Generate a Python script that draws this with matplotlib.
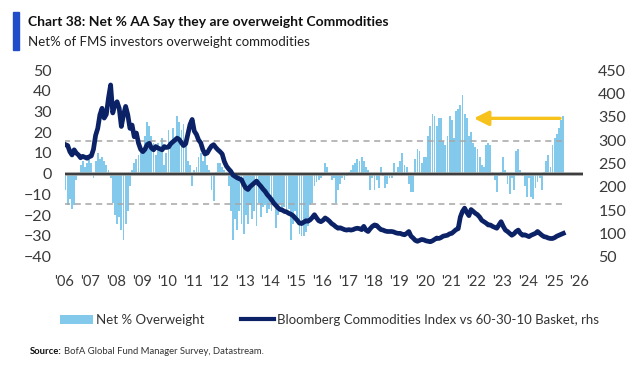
import numpy as np
import matplotlib
matplotlib.use("Agg")
import matplotlib.pyplot as plt
from matplotlib.patches import Patch, Rectangle
from matplotlib.lines import Line2D

plt.rcParams['font.family'] = ['Lato', 'DejaVu Sans']

# Net % of FMS investors overweight commodities, monthly from Jan 2006
net_ow = [
    -8, -15, -12, -17, -15, -3, 1, 4, 6, 3, 5, 7,            # 2006
    5, -2, 6, 10, 7, 8, 6, 4, 2, -2, -14, -20,               # 2007
    -24, -21, -27, -32, -24, -18, -6, 2, 5, 7, 9, 11,        # 2008
    12, 18, 25, 23, 18, 15, 9, 15, 11, 17, 4, 10,            # 2009
    21, 15, 22, 17, 28, 25, 21, 24, 18, 6, 4, -6,            # 2010
    2, 3, 8, 10, 6, 9, 4, 2, -8, -13, 1, 5,                  # 2011
    5, 3, 2, 1, -6, -18, -32, -22, -27, -18, -24, -29,       # 2012
    -20, -24, -15, -22, -18, -25, -14, -21, -16, -15, -19, -17,  # 2013
    -18, -14, -26, -20, -15, -17, -16, -18, -17, -32, -24, -18,  # 2014
    -22, -29, -30, -30, -28, -25, -15, -14, -6, -4, -3, -2,  # 2015
    -1, 5, 3, -1, -3, -2, -14, -8, -5, -2, -3, -1,           # 2016
    1, 2, 4, 5, 7, 6, 8, 6, 3, 2, -8, -2,                    # 2017
    -8, -3, -7, 3, -1, -7, -5, -2, -2, 5, 1, 3,              # 2018
    6, 10, 4, 3, -5, -9, -9, 7, 12, 11, 5, 8,                # 2019
    8, 18, 23, 29, 28, 23, 27, 27, 16, 14, 18, 28,           # 2020
    26, 17, 30, 31, 33, 38, 29, 27, 18, 20, 15, 13,          # 2021
    12, 8, 4, 3, 14, 15, 14, 1, -3, -9, -1, 1,               # 2022
    8, 2, -5, -10, -2, -8, 11, 12, 2, -1, -6, -11,           # 2023
    -2, -11, -12, -7, -4, -2, -8, 1, 6, 9, 3, 14,            # 2024
    17, 19, 22, 26, 28,                                      # 2025
]

# Bloomberg Commodities Index vs 60-30-10 basket (rhs), monthly from Jan 2006
bcom_rel = [
    290, 288, 275, 268, 279, 272, 268, 262, 265, 263, 261, 264,
    266, 280, 310, 325, 354, 368, 347, 355, 390, 418, 358, 375,
    382, 368, 329, 354, 372, 354, 325, 332, 307, 315, 293, 280,
    275, 280, 290, 293, 283, 279, 286, 283, 281, 279, 286, 284,
    285, 292, 296, 300, 304, 301, 294, 288, 292, 312, 333, 344,
    319, 312, 300, 294, 279, 270, 272, 280, 287, 290, 284, 279,
    275, 270, 254, 244, 238, 233, 225, 222, 219, 217, 215, 205,
    197, 194, 200, 204, 208, 212, 206, 201, 195, 190, 183, 178,
    172, 165, 160, 155, 151, 150, 147, 146, 143, 141, 138, 133,
    128, 122, 121, 124, 127, 126, 129, 134, 140, 133, 127, 125,
    128, 133, 130, 126, 121, 118, 114, 111, 112, 110, 108, 107,
    108, 107, 108, 110, 111, 110, 108, 115, 107, 104, 110, 115,
    118, 117, 112, 108, 107, 105, 104, 104, 104, 103, 101, 100,
    100, 98, 97, 100, 104, 94, 90, 85, 83, 85, 87, 86,
    84, 83, 82, 84, 87, 90, 89, 91, 94, 95, 96, 99,
    100, 104, 108, 110, 135, 147, 154, 145, 138, 151, 147, 143,
    140, 135, 128, 125, 122, 118, 118, 115, 113, 111, 118, 125,
    115, 107, 104, 100, 96, 99, 104, 107, 100, 96, 97, 95,
    93, 96, 98, 100, 104, 100, 96, 93, 92, 90, 89, 89,
    91, 94, 96, 98, 100,
]

year_labels = ["'%02d" % (y % 100) for y in range(2006, 2027)]
left_ticks = list(range(-40, 51, 10))
right_ticks = list(range(50, 451, 50))
upper_band = 16
lower_band = -14.5

bar_x = 2006 + (np.arange(len(net_ow)) + 0.5) / 12
line_x = 2006 + (np.arange(len(bcom_rel)) + 0.5) / 12

fig = plt.figure(figsize=(6.31, 3.7), dpi=100)
W, H = 631, 370
ax = fig.add_axes([64.5 / W, 1 - 256.7 / H, (583 - 64.5) / W, (256.7 - 70) / H])
ax2 = ax.twinx()

light_blue = '#82c9ec'
navy = '#0c2266'

ax.bar(bar_x, net_ow, width=0.85 / 12, color=light_blue, linewidth=0)
ax.hlines([upper_band, lower_band], 2006, bar_x[-1] + 0.03, colors='#a6a6a6',
          linestyles=(0, (4, 3)), linewidth=1.1)
ax.axhline(0, color='#9a9a9a', linewidth=2.6, zorder=3)
ax.axhline(0, color='#222222', linewidth=1.1, zorder=3)

ax2.plot(line_x, bcom_rel, color=navy, linewidth=3.4, solid_joinstyle='round')

ax.set_xlim(2006, 2026.14)
ax.set_ylim(-40, 50)
ax2.set_ylim(50, 450)
ax.set_yticks(left_ticks)
ax2.set_yticks(right_ticks)
ax.set_xticks(range(2006, 2027))
ax.set_xticklabels(year_labels)

for a in (ax, ax2):
    for s in a.spines.values():
        s.set_visible(False)
    a.tick_params(length=0, colors='#3a3a3a')
ax.tick_params(axis='y', labelsize=11.5, pad=9)
ax2.tick_params(axis='y', labelsize=11.5, pad=11)
ax.tick_params(axis='x', labelsize=10.5, pad=13)

# yellow arrow pointing back to the 2021 peak
ax.annotate('', xy=(2021.9, 26.7), xytext=(2025.25, 26.7),
            arrowprops=dict(arrowstyle='-|>', color='#f8c21c', lw=2.4,
                            mutation_scale=22, shrinkA=0, shrinkB=0))

# title block
fig.patches.append(Rectangle((13 / W, 1 - 50 / H), 6 / W, 38 / H,
                             transform=fig.transFigure, color='#1f4ec8'))
fig.text(28 / W, 1 - 22 / H, 'Chart 38: Net % AA Say they are overweight Commodities',
         fontsize=10, fontweight='bold', color='#111111', va='center', ha='left')
fig.text(28 / W, 1 - 42 / H, 'Net% of FMS investors overweight commodities',
         fontsize=9.5, color='#222222', va='center', ha='left')

handles = [Patch(facecolor=light_blue, edgecolor='none'),
           Line2D([0], [0], color=navy, linewidth=3)]
labels = ['Net % Overweight', 'Bloomberg Commodities Index vs 60-30-10 Basket, rhs']
fig.legend(handles, labels, loc='center', bbox_to_anchor=(329.5 / W, 1 - 320 / H),
           ncol=2, frameon=False, fontsize=9.5, handlelength=2.5,
           handletextpad=0.25, columnspacing=2.7, labelcolor='#333333')

src = fig.text(30 / W, 1 - 352 / H, 'Source:', fontsize=6.8, fontweight='bold',
               color='#111111', va='center', ha='left')
fig.canvas.draw()
bb = src.get_window_extent()
fig.text((bb.x1 + 2) / W, 1 - 352 / H, 'BofA Global Fund Manager Survey, Datastream.',
         fontsize=6.8, color='#333333', va='center', ha='left')

fig.savefig('out.png', dpi=100)
